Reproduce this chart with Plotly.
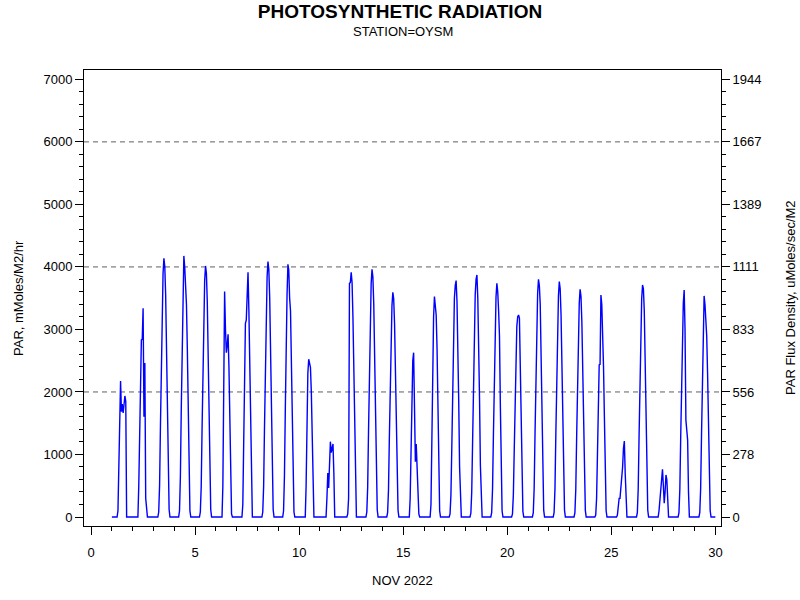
import plotly.graph_objects as go

# ---- data (PAR, mMoles/M2/hr), Nov 2022 ----
days = list(range(1, 30))               # Nov 1 .. Nov 29
daylight_hours = list(range(6, 19))      # hours 06..18 (other hours read as 0)
daylight_par = [
    [0, 100, 700, 1500, 2176, 1685, 1808, 1664, 1800, 1936, 1850, 0, 0],          # 1
    [0, 500, 1400, 2300, 2832, 2840, 3339, 1605, 2464, 300, 100, 0, 0],           # 2
    [80, 500, 1450, 2480, 3310, 3890, 4139, 4010, 3560, 2810, 1860, 830, 120],    # 3
    [100, 650, 1700, 2800, 3600, 4176, 4000, 3685, 3400, 2700, 1800, 800, 100],   # 4
    [80, 480, 1400, 2410, 3210, 3780, 4016, 3900, 3450, 2730, 1810, 800, 120],    # 5
    [0, 0, 500, 2000, 3605, 3000, 2629, 2750, 2923, 2400, 1500, 600, 50],         # 6
    [0, 200, 1000, 2000, 3099, 3150, 3600, 3915, 3300, 2400, 1400, 400, 0],       # 7
    [80, 490, 1430, 2450, 3270, 3840, 4085, 3960, 3510, 2780, 1840, 820, 120],    # 8
    [100, 650, 1700, 2800, 3550, 4043, 3950, 3500, 3300, 2500, 1500, 600, 80],    # 9
    [0, 0, 500, 1500, 2300, 2523, 2450, 2395, 2000, 1300, 600, 0, 0],             # 10
    [0, 0, 300, 704, 464, 900, 1205, 1030, 1100, 1168, 700, 0, 0],                # 11
    [0, 0, 50, 300, 3739, 3750, 3915, 3750, 3200, 2300, 1300, 300, 0],            # 12
    [80, 480, 1390, 2380, 3170, 3730, 3963, 3840, 3410, 2690, 1780, 790, 120],    # 13
    [70, 430, 1260, 2160, 2880, 3380, 3595, 3490, 3090, 2440, 1620, 720, 110],    # 14
    [0, 0, 300, 1200, 2000, 2500, 2629, 1800, 885, 1168, 700, 300, 50],           # 15
    [0, 0, 200, 1500, 2600, 3200, 3525, 3300, 3232, 2700, 1800, 800, 100],        # 16
    [50, 350, 1100, 2000, 2800, 3500, 3700, 3781, 3450, 2800, 1850, 800, 100],    # 17
    [60, 400, 1200, 2150, 2950, 3550, 3800, 3872, 3500, 2850, 1900, 820, 100],    # 18
    [70, 450, 1300, 2250, 2990, 3520, 3739, 3600, 3300, 2900, 1800, 750, 100],    # 19
    [50, 350, 1050, 1850, 2550, 3050, 3200, 3232, 3180, 2500, 1600, 700, 90],     # 20
    [70, 460, 1330, 2280, 3040, 3580, 3803, 3700, 3400, 2600, 1700, 750, 110],    # 21
    [75, 450, 1320, 2260, 3010, 3540, 3765, 3650, 3240, 2560, 1690, 750, 110],    # 22
    [70, 440, 1280, 2190, 2910, 3420, 3643, 3530, 3130, 2480, 1640, 730, 110],    # 23
    [30, 300, 1000, 1800, 2432, 2440, 3552, 3400, 3000, 2400, 1600, 700, 100],    # 24
    [0, 30, 150, 299, 300, 450, 592, 800, 1100, 1216, 700, 200, 0],               # 25
    [70, 450, 1300, 2230, 2970, 3490, 3712, 3650, 3300, 2520, 1670, 740, 110],    # 26
    [0, 100, 300, 500, 650, 763, 500, 219, 400, 672, 600, 200, 0],                # 27
    [70, 440, 1270, 2180, 2900, 3420, 3632, 3000, 1550, 1300, 1232, 400, 0],      # 28
    [70, 450, 1300, 2250, 3000, 3536, 3400, 3205, 2900, 2300, 1500, 650, 100],    # 29
]
end_day = 30
end_value = 0

y_ticks = [0, 1000, 2000, 3000, 4000, 5000, 6000, 7000]
grid_values = [2000, 4000, 6000]
x_ticks = [0, 5, 10, 15, 20, 25, 30]
flux_factor = 1 / 3.6   # mMoles/M2/hr -> uMoles/sec/M2

# ---- assemble hourly series ----
xs, ys = [], []
for d, vals in zip(days, daylight_par):
    lookup = dict(zip(daylight_hours, vals))
    for h in range(24):
        xs.append(d + h / 24)
        ys.append(lookup.get(h, 0))
xs.append(end_day)
ys.append(end_value)

FONT = "Liberation Sans, Arial, sans-serif"
y_range = [-144, 7150]
x_range = [-0.34, 30.27]

L, R, T, B = 84, 79, 70, 74
PW, PH = 800 - L - R, 600 - T - B

fig = go.Figure()
fig.add_trace(go.Scatter(x=xs, y=ys, mode="lines",
                         line=dict(color="#0000ff", width=1.4),
                         showlegend=False, hoverinfo="x+y"))
# invisible companion on the flux-density axis
fig.add_trace(go.Scatter(x=[xs[0]], y=[ys[0] * flux_factor], yaxis="y2",
                         mode="markers", marker=dict(opacity=0),
                         showlegend=False, hoverinfo="skip"))

for g in grid_values:
    fig.add_shape(type="line", xref="paper", x0=0, x1=1, yref="y", y0=g, y1=g,
                  line=dict(color="#606060", width=1, dash="5px,4px"), layer="below")

axis_common = dict(showline=True, linecolor="black", linewidth=1, ticks="outside",
                   tickcolor="black", tickwidth=1, ticklen=8, showgrid=False,
                   zeroline=False, automargin=False,
                   tickfont=dict(size=13, color="black", family=FONT))

fig.update_layout(
    width=800, height=600,
    margin=dict(l=L, r=R, t=T, b=B, autoexpand=False),
    paper_bgcolor="white", plot_bgcolor="white",
    font=dict(family=FONT, color="black", size=13),
    title=dict(text="<b>PHOTOSYNTHETIC RADIATION</b>", x=0.5, xanchor="center",
               xref="container", yref="container", y=1 - 11.5 / 600, yanchor="middle",
               font=dict(size=19, family=FONT, color="black")),
    xaxis=dict(**axis_common, range=x_range, tickmode="array", tickvals=x_ticks,
               mirror=True, ticklabelstandoff=6,
               minor=dict(dtick=1, tick0=0, ticks="outside", ticklen=4,
                          tickcolor="black", tickwidth=1, showgrid=False)),
    yaxis=dict(**axis_common, range=y_range, tickmode="array", tickvals=y_ticks,
               minor=dict(dtick=200, tick0=0, ticks="outside", ticklen=4,
                          tickcolor="black", tickwidth=1, showgrid=False)),
    yaxis2=dict(**axis_common, overlaying="y", side="right",
                range=[y_range[0] * flux_factor, y_range[1] * flux_factor],
                tickmode="linear", tick0=0, dtick=1000 * flux_factor, tickformat=".0f",
                minor=dict(dtick=200 * flux_factor, tick0=0, ticks="outside", ticklen=4,
                           tickcolor="black", tickwidth=1, showgrid=False)),
    annotations=[
        dict(text="STATION=OYSM", xref="paper", yref="paper", x=0.5,
             y=(PH + 0 - (31 - T)) / PH, xanchor="center", yanchor="middle",
             showarrow=False, font=dict(size=13, family=FONT, color="black")),
        dict(text="NOV 2022", xref="paper", yref="paper", x=(403 - L) / PW,
             y=-(580 - (T + PH)) / PH, xanchor="center", yanchor="middle",
             showarrow=False, font=dict(size=13, family=FONT, color="black")),
        dict(text="PAR, mMoles/M2/hr", xref="paper", yref="paper", x=(18 - L) / PW,
             y=0.5, xanchor="center", yanchor="middle", textangle=-90,
             showarrow=False, font=dict(size=13, family=FONT, color="black")),
        dict(text="PAR Flux Density, uMoles/sec/M2", xref="paper", yref="paper",
             x=(790 - L) / PW, y=0.5, xanchor="center", yanchor="middle", textangle=-90,
             showarrow=False, font=dict(size=13, family=FONT, color="black")),
    ],
)

fig.write_html("out.html", config={"displayModeBar": False},
               post_script="document.body.style.margin='0';document.body.style.padding='0';")
